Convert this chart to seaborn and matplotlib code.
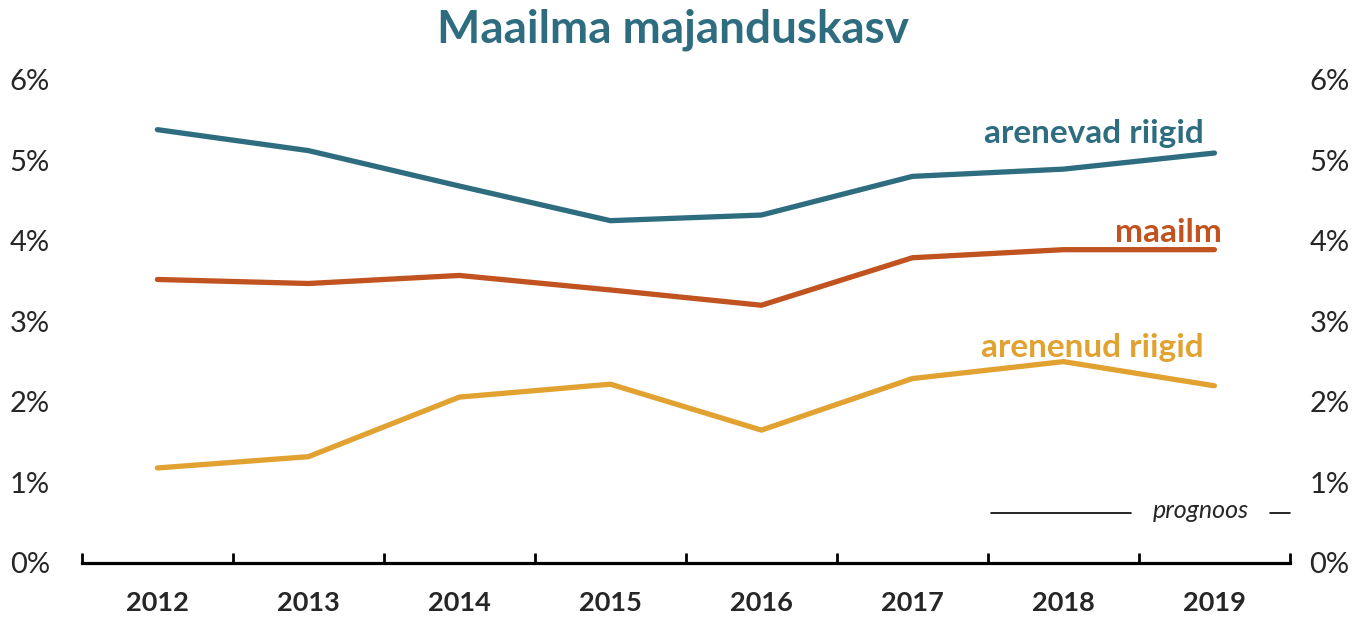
import numpy as np
import pandas as pd
import seaborn as sns
import matplotlib.pyplot as plt
from matplotlib.ticker import FixedLocator

YEARS = [2012, 2013, 2014, 2015, 2016, 2017, 2018, 2019]
ARENEVAD = [5.38, 5.12, 4.68, 4.25, 4.32, 4.80, 4.89, 5.09]
MAAILM = [3.52, 3.47, 3.57, 3.39, 3.20, 3.79, 3.89, 3.89]
ARENENUD = [1.18, 1.32, 2.06, 2.22, 1.65, 2.29, 2.50, 2.20]
SERIES = ["arenevad riigid", "maailm", "arenenud riigid"]
Y_TICKS = [0, 1, 2, 3, 4, 5, 6]

COLORS = {"arenevad riigid": "#2E6D80", "maailm": "#C0531F", "arenenud riigid": "#E1A232"}
FONT = ["Lato", "DejaVu Sans"]

sns.set_style("white")
plt.rcParams['font.family'] = FONT

df = pd.DataFrame({
    "year": YEARS * 3,
    "value": ARENEVAD + MAAILM + ARENENUD,
    "series": [s for s in SERIES for _ in YEARS],
})

fig = plt.figure(figsize=(13.65, 6.18), dpi=100)
ax = fig.add_axes([0.060, 0.089, 0.885, 0.782])

sns.lineplot(data=df, x="year", y="value", hue="series", hue_order=SERIES,
             palette=COLORS, linewidth=3.8, legend=False, ax=ax,
             solid_capstyle="round")

ax.set_xlim(YEARS[0] - 0.5, YEARS[-1] + 0.5)
ax.set_ylim(0, 6)
ax.set_xlabel("")
ax.set_ylabel("")

for s in ["top", "right", "left"]:
    ax.spines[s].set_visible(False)
ax.spines["bottom"].set_linewidth(2.3)
ax.spines["bottom"].set_color("black")

ax.set_xticks(YEARS)
ax.set_xticklabels([str(y) for y in YEARS], fontsize=19.5, fontweight="bold")
ax.xaxis.set_minor_locator(FixedLocator([y + 0.5 for y in [YEARS[0] - 1] + YEARS]))
ax.tick_params(axis="x", which="major", bottom=False, length=0, pad=20)
ax.tick_params(axis="x", which="minor", bottom=True, length=7, width=2,
               direction="in", color="black")

ax.set_yticks(Y_TICKS)
ax.set_yticklabels([f"{t}%" for t in Y_TICKS], fontsize=21)
ax.tick_params(axis="y", length=0, pad=23)

ax2 = ax.twinx()
ax2.set_ylim(0, 6)
ax2.set_yticks(Y_TICKS)
ax2.set_yticklabels([f"{t}%" for t in Y_TICKS], fontsize=21)
ax2.tick_params(axis="y", length=0, pad=14)
for s in ax2.spines.values():
    s.set_visible(False)

# series labels
ax.text(2018.93, 5.33, "arenevad riigid", color=COLORS["arenevad riigid"],
        fontsize=24, fontweight="bold", ha="right", va="center")
ax.text(2019.05, 4.1, "maailm", color=COLORS["maailm"],
        fontsize=24, fontweight="bold", ha="right", va="center")
ax.text(2018.93, 2.68, "arenenud riigid", color=COLORS["arenenud riigid"],
        fontsize=24, fontweight="bold", ha="right", va="center")

# forecast marker
ax.plot([2017.52, 2018.45], [0.62, 0.62], color="black", lw=1.2, clip_on=False)
ax.text(2018.91, 0.65, "prognoos", fontsize=18, style="italic", ha="center", va="center")
ax.plot([2019.37, 2019.5], [0.62, 0.62], color="black", lw=1.2, clip_on=False)

fig.text(0.493, 0.952, "Maailma majanduskasv", fontsize=33, fontweight="bold",
         color=COLORS["arenevad riigid"], ha="center", va="center")

fig.savefig("out.png", dpi=100)
